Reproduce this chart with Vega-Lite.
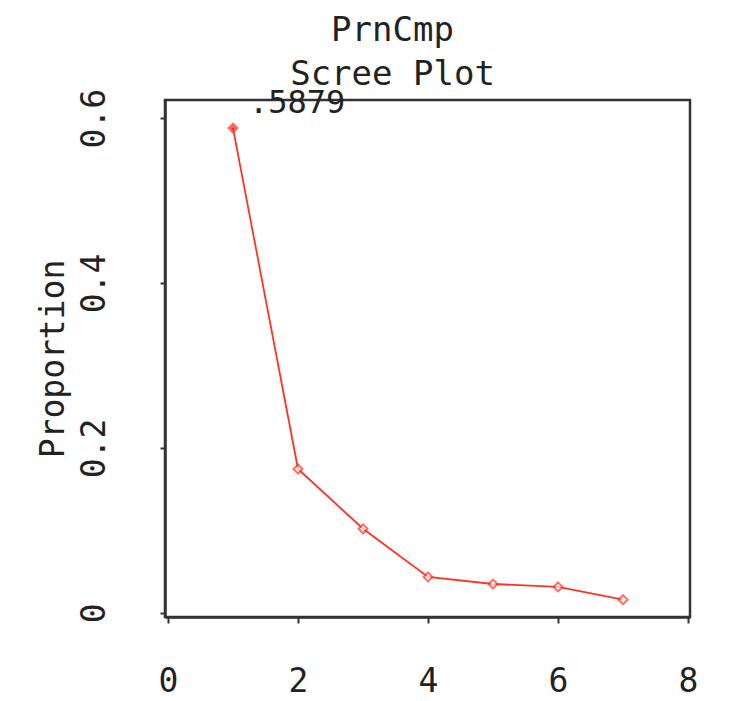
{
  "$schema": "https://vega.github.io/schema/vega-lite/v6.json",
  "autosize": {"type": "none"},
  "padding": {"left": 165, "top": 100, "right": 54, "bottom": 84},
  "width": 525,
  "height": 517,
  "background": "white",
  "config": {
    "view": {"stroke": "#333333", "strokeWidth": 2.5},
    "font": "DejaVu Sans Mono"
  },
  "title": {
    "text": ["PrnCmp", "Scree Plot"],
    "anchor": "middle",
    "dx": -35,
    "dy": 19,
    "offset": 14,
    "font": "DejaVu Sans Mono",
    "fontSize": 34,
    "fontWeight": "normal",
    "color": "#222222",
    "lineHeight": 44
  },
  "data": {
    "values": [
      {"component": 1, "proportion": 0.5879, "first": true},
      {"component": 2, "proportion": 0.1745, "first": false},
      {"component": 3, "proportion": 0.102, "first": false},
      {"component": 4, "proportion": 0.0436, "first": false},
      {"component": 5, "proportion": 0.035, "first": false},
      {"component": 6, "proportion": 0.0315, "first": false},
      {"component": 7, "proportion": 0.016, "first": false}
    ]
  },
  "encoding": {
    "x": {
      "field": "component",
      "type": "quantitative",
      "scale": {"domain": [-0.046, 8.03], "nice": false, "zero": false},
      "axis": {
        "title": null,
        "values": [0, 2, 4, 6, 8],
        "grid": false,
        "domainColor": "#333333",
        "domainWidth": 2.5,
        "tickColor": "#333333",
        "tickWidth": 2,
        "tickSize": 6,
        "labelFont": "DejaVu Sans Mono",
        "labelFontSize": 33,
        "labelColor": "#222222",
        "labelPadding": 42,
        "labelFlush": false
      }
    },
    "y": {
      "field": "proportion",
      "type": "quantitative",
      "scale": {"domain": [-0.005, 0.622], "nice": false, "zero": false},
      "axis": {
        "title": "Proportion",
        "titleFont": "DejaVu Sans Mono",
        "titleFontSize": 33,
        "titleFontWeight": "normal",
        "titleColor": "#222222",
        "titlePadding": 8,
        "values": [0, 0.2, 0.4, 0.6],
        "labelExpr": "datum.value == 0 ? '0' : format(datum.value, '.1f')",
        "grid": false,
        "domainColor": "#333333",
        "domainWidth": 2.5,
        "tickColor": "#333333",
        "tickWidth": 2,
        "tickSize": 5,
        "labelFont": "DejaVu Sans Mono",
        "labelFontSize": 33,
        "labelColor": "#222222",
        "labelAngle": -90,
        "labelAlign": "center",
        "labelBaseline": "bottom",
        "labelPadding": 49,
        "labelFlush": false
      }
    }
  },
  "layer": [
    {
      "mark": {"type": "line", "color": "#ff3322", "strokeWidth": 1.8}
    },
    {
      "mark": {"type": "point", "shape": "diamond", "size": 80, "strokeWidth": 2, "color": "#ff3322"},
      "encoding": {
        "fill": {
          "field": "first",
          "type": "nominal",
          "scale": {"domain": [true, false], "range": ["#ff2211", "white"]},
          "legend": null
        },
        "fillOpacity": {"value": 1}
      }
    },
    {
      "transform": [{"filter": "datum.first"}],
      "mark": {
        "type": "text",
        "align": "left",
        "baseline": "alphabetic",
        "dx": 16,
        "dy": -15,
        "font": "DejaVu Sans Mono",
        "fontSize": 32,
        "color": "#222222"
      },
      "encoding": {
        "text": {"value": ".5879"}
      }
    }
  ]
}
